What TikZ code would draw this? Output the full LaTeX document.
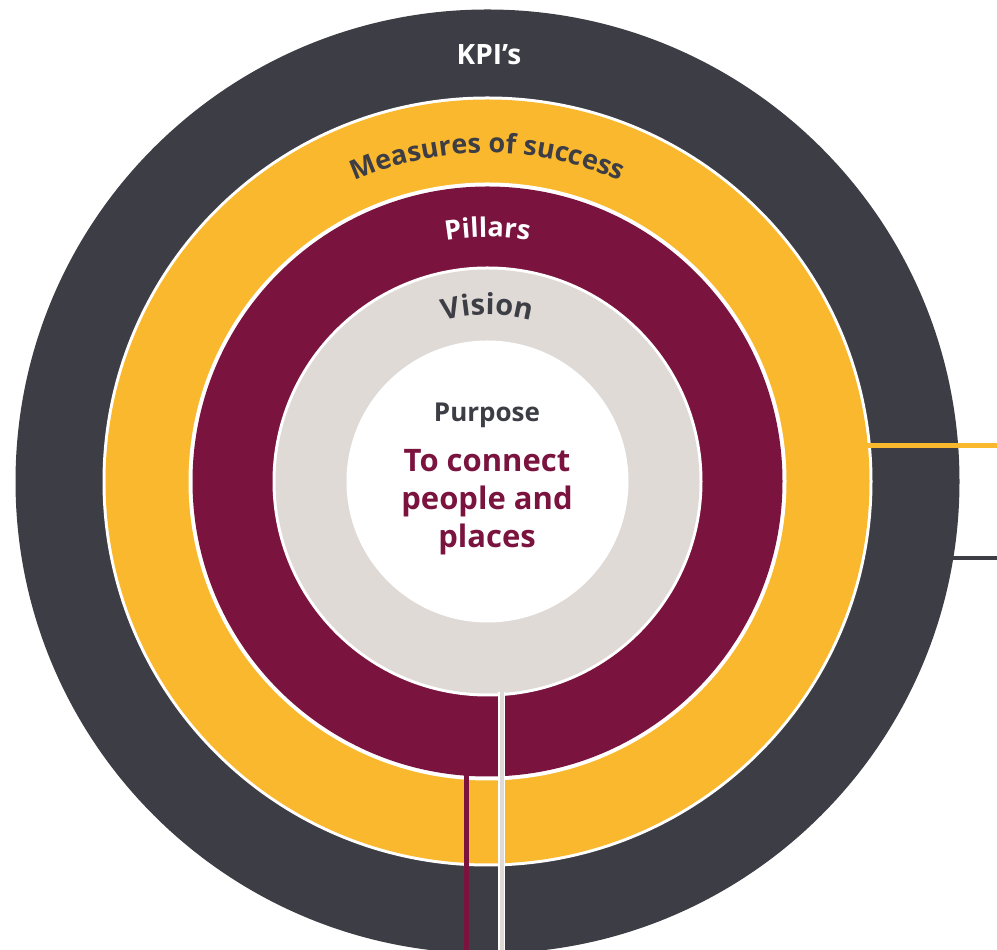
\documentclass[tikz,border=0pt]{standalone}
\usepackage{fontspec}
\setmainfont{Open Sans}
\usetikzlibrary{decorations.text}
\definecolor{kpidark}{HTML}{3D3D45}
\definecolor{mosyellow}{HTML}{F9B82D}
\definecolor{pilmaroon}{HTML}{7B133F}
\definecolor{visgray}{HTML}{DFDAD6}
\newcommand\ringfont{\fontsize{27}{32}\selectfont\bfseries}
\newcommand\visfont{\fontsize{29}{34}\selectfont\bfseries}
\begin{document}
\begin{tikzpicture}[x=1pt,y=1pt,
  ring/.style={circle, inner sep=0pt, outer sep=0pt, draw=none},
  label/.style={inner sep=0pt, outer sep=0pt, anchor=base},
  connector/.style={line cap=butt, line width=5pt}]
\useasboundingbox (0,0) rectangle (997,950);
\clip (0,0) rectangle (997,950);
\coordinate (C) at (487.5,468.5);
% rings
\node[ring, fill=kpidark,    minimum size=944] (kpi)  at (C) {};
\node[ring, fill=white,      minimum size=770] (mosb) at (C) {};
\node[ring, fill=mosyellow,  minimum size=764] (mos)  at (C) {};
\node[ring, fill=white,      minimum size=598] (pilb) at (C) {};
\node[ring, fill=pilmaroon,  minimum size=590] (pil)  at (C) {};
\node[ring, fill=white,      minimum size=430] (visb) at (C) {};
\node[ring, fill=visgray,    minimum size=424] (vis)  at (C) {};
\node[ring, fill=white,      minimum size=282] (pur)  at (C) {};
% connector starts (on the ring borders) and free ends
\coordinate (mosstart) at ([shift={(5.48:380)}]mos.center);
\coordinate (kpistart) at ([shift={(-9.33:471)}]kpi.center);
\coordinate (pilstart) at ([shift={(265.82:293)}]pil.center);
\coordinate (visstart) at ([shift={(273.92:211)}]vis.center);
\coordinate (mosend) at (1000,505);
\coordinate (kpiend) at (1000,392);
\coordinate (pilend) at (466,-5);
\coordinate (visend) at (502,-5);
% connectors
\draw[connector, mosyellow] (mosstart) -- (mosstart -| mosend);
\draw[connector, kpidark, line width=4.5pt] (kpistart) -- (kpistart -| kpiend);
\draw[connector, pilmaroon] (pilstart) -- (pilstart |- pilend);
\draw[connector, white, line width=7pt] (visstart) -- (visstart |- visend);
\draw[connector, visgray, line width=4pt] (visstart) -- (visstart |- visend);
% straight labels
\node[label, text=white, font=\fontsize{28}{34}\selectfont\bfseries] (kpilabel) at (489,885) {KPI's};
\node[label, text=kpidark, font=\fontsize{26}{32}\selectfont\bfseries] (purlabel) at (487,528) {Purpose};
\node[label, text=pilmaroon, font=\fontsize{31}{38}\selectfont\bfseries, align=center] (purtext) at (487,402) {To connect\\people and\\places};
% curved labels
\path[decorate, decoration={text along path, text align=center, text color=kpidark,
  text={|\ringfont|Measures of success}}]
  ([shift={(160:328.5)}]C) arc[start angle=160, end angle=20, radius=328.5];
\path[decorate, decoration={text along path, text align=center, text color=white,
  text={|\ringfont|Pillars}}]
  ([shift={(160:244.5)}]C) arc[start angle=160, end angle=20, radius=244.5];
\path[decorate, decoration={text along path, text align=center, text color=kpidark,
  text={|\visfont|Vision}}]
  ([shift={(160:166.5)}]C) arc[start angle=160, end angle=20, radius=166.5];
\end{tikzpicture}
\end{document}
